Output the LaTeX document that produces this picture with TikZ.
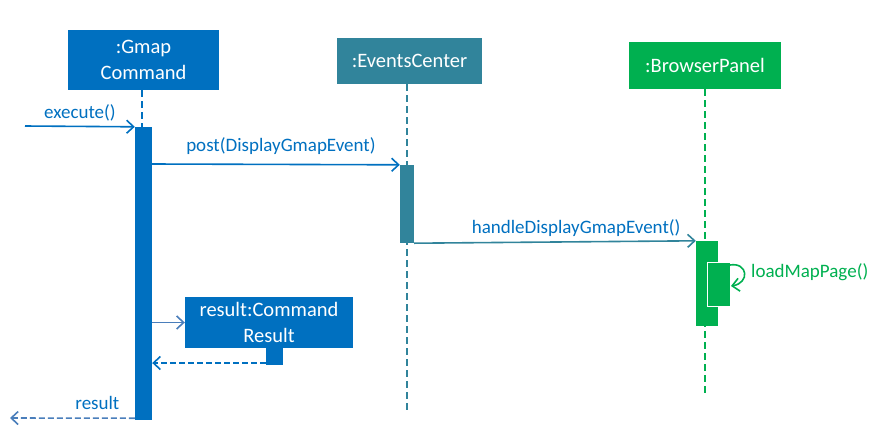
\documentclass[tikz,border=0pt]{standalone}
\usepackage{fontspec}
\setmainfont{Carlito}
\usetikzlibrary{arrows.meta}
\definecolor{gmapblue}{HTML}{0070C0}
\definecolor{eventsteal}{HTML}{31849B}
\definecolor{browsergreen}{HTML}{00B050}
\definecolor{msgblue}{HTML}{4A7EBB}
\begin{document}
\begin{tikzpicture}[x=1pt, y=-1pt, font=\fontsize{19}{26}\selectfont,
  obj/.style={fill=#1, text=white, align=center, inner sep=0pt, font=\fontsize{20.5}{26}\selectfont},
  bar/.style={fill=#1, inner sep=0pt},
  life/.style={draw=#1, line width=2pt, dash pattern=on 7pt off 4pt},
  msg/.style={draw=#1, line width=1.6pt, -{Straight Barb[length=7pt,width=13pt,line width=1.6pt]}},
  ret/.style={msg=#1, dash pattern=on 6pt off 3pt},
  lbl/.style={text=#1, inner sep=0pt}]
\useasboundingbox (0,0) rectangle (875,432);
% objects
\node[obj=gmapblue, minimum width=151, minimum height=60] (gmap) at (143.5,60) {:Gmap\\Command};
\node[obj=eventsteal, minimum width=145, minimum height=46] (events) at (409.5,61) {:EventsCenter};
\node[obj=browsergreen, minimum width=152, minimum height=47] (browser) at (705,65.5) {:BrowserPanel};
% lifelines
\coordinate (eventsEnd) at (407,410);
\coordinate (browserEnd) at (705,397);
\draw[life=gmapblue] (142,90) -- (142,127);
\draw[life=eventsteal] (events.south -| eventsEnd) -- (eventsEnd);
\draw[life=browsergreen] (browser.south) -- (browserEnd);
% activations
\node[bar=gmapblue, minimum width=17, minimum height=293] (gmapAct) at (143.5,273.5) {};
\node[bar=eventsteal, minimum width=14, minimum height=78] (eventsAct) at (407,204) {};
\node[bar=browsergreen, minimum width=22, minimum height=85] (browserAct) at (707,283.5) {};
\node[bar=browsergreen, draw=white, line width=1pt, minimum width=23, minimum height=44] (loadAct) at (718.5,284) {};
\node[obj=gmapblue, minimum width=168, minimum height=51] (result) at (269,322.5) {result:Command\\Result};
\node[bar=gmapblue, minimum width=17, minimum height=18] (resultAct) at (274.5,356) {};
% messages
\coordinate (start) at (25,126);
\coordinate (caller) at (10,418);
\draw[msg=gmapblue] (start) -- (gmapAct.north west) node[lbl=gmapblue, pos=0.5, above=4pt] {execute()};
\draw[msg=gmapblue] (gmapAct.east |- 0,164) -- (eventsAct.north west) node[lbl=gmapblue, pos=0.52, above=9pt] {post(DisplayGmapEvent)};
\draw[msg=eventsteal] (eventsAct.south east) -- (browserAct.north west) node[lbl=gmapblue, pos=0.575, above=4pt] {handleDisplayGmapEvent()};
\draw[msg=browsergreen] (730,265) .. controls (748,262) and (750,283) .. (731,286);
\node[lbl=browsergreen, anchor=west] (loadLbl) at (751,272) {loadMapPage()};
\draw[msg=msgblue] (gmapAct.east |- result.west) -- (result.west);
\draw[ret=gmapblue] (resultAct.west |- 0,363) -- (gmapAct.east |- 0,363);
\draw[ret=msgblue] (gmapAct.south west) ++(0,-2) -- (caller) node[lbl=gmapblue, pos=0.3, above=8pt] {result};
\end{tikzpicture}
\end{document}
